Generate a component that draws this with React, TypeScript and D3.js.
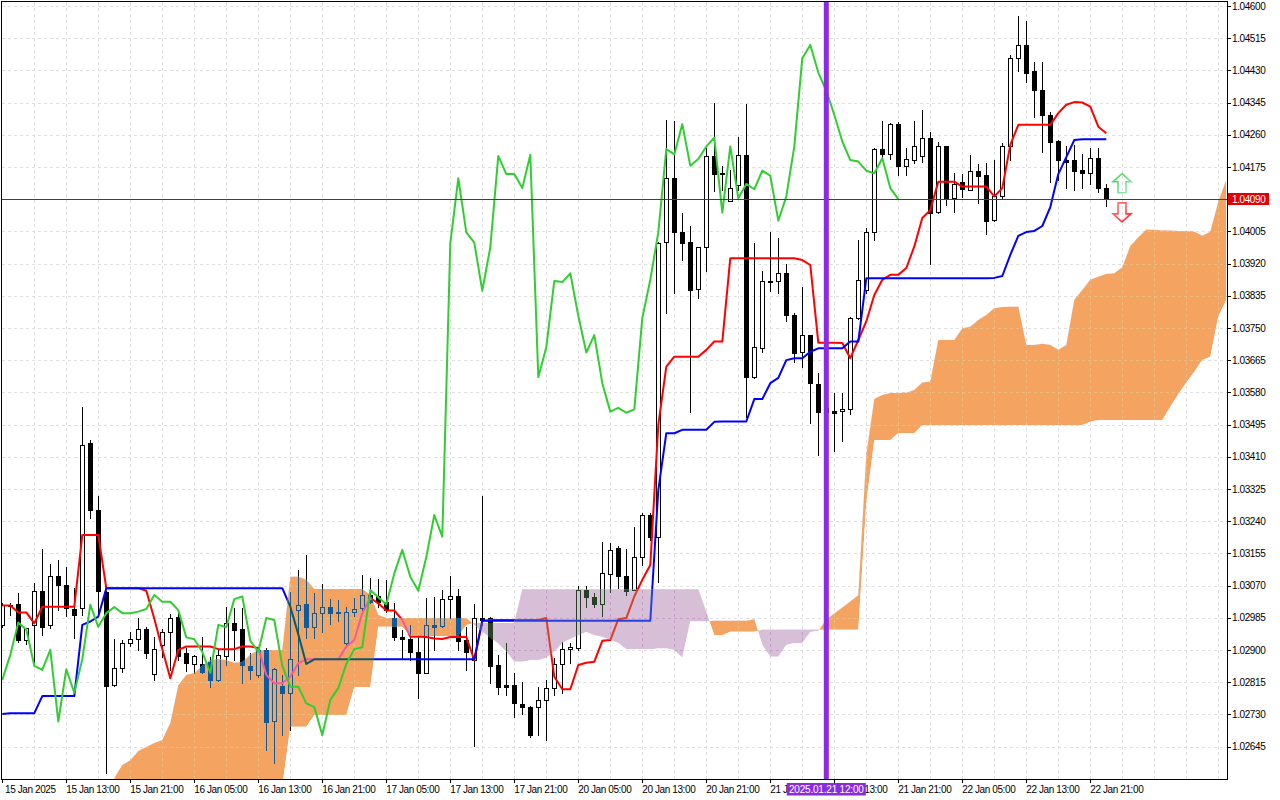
import { useEffect, useRef } from 'react';
import * as d3 from 'd3';

// hourly bars, 15 Jan 05:00 .. 22 Jan 23:00 (bar index 0..138)
const opens = [
  1.02966, 1.03019, 1.03020, 1.02926, 1.02966, 1.03056, 1.02966, 1.03095, 1.03071, 1.03007,
  1.03010, 1.03446, 1.03269, 1.03054, 1.02807, 1.02852, 1.02918, 1.02928, 1.02954, 1.02836,
  1.02913, 1.02947, 1.02986, 1.02891, 1.02865, 1.02862, 1.02869, 1.02821, 1.02884, 1.02972,
  1.02954, 1.02858, 1.02834, 1.02900, 1.02713, 1.02805, 1.02786, 1.03005, 1.03021, 1.02960,
  1.02997, 1.03013, 1.03000, 1.02918, 1.02999, 1.03010, 1.03045, 1.03042, 1.03027, 1.02984,
  1.02933, 1.02928, 1.02895, 1.02840, 1.02966, 1.02963, 1.03034, 1.03042, 1.02926, 1.02872,
  1.02984, 1.02984, 1.02860, 1.02807, 1.02807, 1.02757, 1.02749, 1.02749, 1.02768, 1.02799,
  1.02863, 1.02902, 1.02904, 1.03058, 1.03039, 1.03020, 1.03100, 1.03168, 1.03095, 1.03058,
  1.03146, 1.03256, 1.03199, 1.03975, 1.04145, 1.04004, 1.03976, 1.03852, 1.03965, 1.04204,
  1.04158, 1.04086, 1.04129, 1.04207, 1.03620, 1.03696, 1.03874, 1.03874, 1.03894, 1.03784,
  1.03685, 1.03731, 1.03602, 1.03529, 1.03531, 1.03530, 1.03535, 1.03776, 1.03850, 1.04002,
  1.04222, 1.04208, 1.04288, 1.04178, 1.04193, 1.04204, 1.04252, 1.04054, 1.04229, 1.04092,
  1.04134, 1.04116, 1.04165, 1.04154, 1.04033, 1.04097, 1.04229, 1.04462, 1.04497, 1.04427,
  1.04378, 1.04312, 1.04244, 1.04193, 1.04193, 1.04167, 1.04158, 1.04198, 1.04119,
];
const highs = [
  1.03024, 1.03024, 1.03050, 1.02958, 1.03076, 1.03166, 1.03127, 1.03137, 1.03118, 1.03063,
  1.03542, 1.03454, 1.03307, 1.03056, 1.02928, 1.02926, 1.02948, 1.02984, 1.02961, 1.02935,
  1.02954, 1.02995, 1.02997, 1.02904, 1.02887, 1.02933, 1.02882, 1.02902, 1.03014, 1.03011,
  1.03010, 1.02891, 1.02905, 1.02905, 1.02852, 1.02834, 1.03054, 1.03111, 1.03151, 1.03050,
  1.03074, 1.03034, 1.03032, 1.03014, 1.03036, 1.03098, 1.03090, 1.03086, 1.03085, 1.03023,
  1.02953, 1.02966, 1.02937, 1.03036, 1.03039, 1.03058, 1.03095, 1.03062, 1.02961, 1.03021,
  1.03305, 1.02987, 1.02887, 1.02918, 1.02838, 1.02814, 1.02752, 1.02803, 1.02821, 1.02879,
  1.02922, 1.02918, 1.03069, 1.03069, 1.03050, 1.03186, 1.03183, 1.03174, 1.03166, 1.03224,
  1.03262, 1.03262, 1.03977, 1.04299, 1.04295, 1.04053, 1.04019, 1.03963, 1.04224, 1.04343,
  1.04178, 1.04167, 1.04255, 1.04341, 1.03974, 1.03900, 1.04004, 1.03987, 1.03919, 1.03790,
  1.03857, 1.03732, 1.03632, 1.03573, 1.03578, 1.03579, 1.03778, 1.03982, 1.04014, 1.04224,
  1.04295, 1.04291, 1.04294, 1.04224, 1.04295, 1.04325, 1.04268, 1.04242, 1.04230, 1.04158,
  1.04156, 1.04207, 1.04183, 1.04185, 1.04193, 1.04238, 1.04471, 1.04574, 1.04559, 1.04453,
  1.04453, 1.04321, 1.04246, 1.04229, 1.04233, 1.04209, 1.04224, 1.04224, 1.04130,
];
const lows = [
  1.02961, 1.02992, 1.02922, 1.02915, 1.02869, 1.02939, 1.02957, 1.03005, 1.02990, 1.02931,
  1.02992, 1.03248, 1.02992, 1.02574, 1.02806, 1.02841, 1.02911, 1.02900, 1.02879, 1.02821,
  1.02882, 1.02847, 1.02873, 1.02843, 1.02840, 1.02838, 1.02803, 1.02818, 1.02860, 1.02873,
  1.02812, 1.02822, 1.02829, 1.02636, 1.02601, 1.02675, 1.02689, 1.02834, 1.02931, 1.02931,
  1.02948, 1.02968, 1.02975, 1.02913, 1.02990, 1.03005, 1.03024, 1.03014, 1.03000, 1.02926,
  1.02875, 1.02873, 1.02772, 1.02840, 1.02900, 1.02961, 1.02984, 1.02900, 1.02847, 1.02646,
  1.02966, 1.02812, 1.02784, 1.02781, 1.02724, 1.02731, 1.02671, 1.02675, 1.02662, 1.02781,
  1.02787, 1.02865, 1.02900, 1.03014, 1.03012, 1.02990, 1.03054, 1.03064, 1.03045, 1.03057,
  1.03124, 1.03190, 1.03078, 1.03790, 1.03843, 1.03928, 1.03529, 1.03828, 1.03899, 1.04112,
  1.04114, 1.04085, 1.04114, 1.03516, 1.03618, 1.03687, 1.03848, 1.03843, 1.03769, 1.03661,
  1.03648, 1.03498, 1.03415, 1.03441, 1.03426, 1.03452, 1.03523, 1.03774, 1.03842, 1.03982,
  1.04193, 1.04195, 1.04154, 1.04154, 1.04185, 1.04189, 1.03919, 1.04053, 1.04075, 1.04057,
  1.04095, 1.04114, 1.04079, 1.03998, 1.04032, 1.04093, 1.04193, 1.04427, 1.04400, 1.04308,
  1.04215, 1.04136, 1.04141, 1.04119, 1.04114, 1.04119, 1.04130, 1.04110, 1.04072,
];
const closes = [
  1.03019, 1.03016, 1.02924, 1.02957, 1.03056, 1.02960, 1.03095, 1.03070, 1.03010, 1.02992,
  1.03441, 1.03268, 1.03056, 1.02806, 1.02852, 1.02918, 1.02928, 1.02954, 1.02891, 1.02902,
  1.02947, 1.02984, 1.02884, 1.02865, 1.02885, 1.02840, 1.02821, 1.02887, 1.02972, 1.02954,
  1.02858, 1.02847, 1.02900, 1.02711, 1.02849, 1.02787, 1.02875, 1.03019, 1.02961, 1.02997,
  1.03013, 1.02997, 1.02997, 1.03001, 1.03008, 1.03045, 1.03027, 1.03027, 1.03005, 1.02933,
  1.02928, 1.02895, 1.02839, 1.02966, 1.02960, 1.03034, 1.03041, 1.02924, 1.02895, 1.02984,
  1.02979, 1.02858, 1.02803, 1.02803, 1.02759, 1.02749, 1.02675, 1.02768, 1.02799, 1.02863,
  1.02902, 1.02907, 1.03058, 1.03039, 1.03020, 1.03102, 1.03164, 1.03093, 1.03056, 1.03145,
  1.03256, 1.03199, 1.03974, 1.04145, 1.04002, 1.03975, 1.03848, 1.03963, 1.04204, 1.04156,
  1.04156, 1.04119, 1.04207, 1.03620, 1.03699, 1.03874, 1.03871, 1.03894, 1.03782, 1.03685,
  1.03731, 1.03604, 1.03529, 1.03539, 1.03526, 1.03535, 1.03776, 1.03877, 1.04002, 1.04222,
  1.04208, 1.04288, 1.04178, 1.04196, 1.04229, 1.04252, 1.04054, 1.04229, 1.04092, 1.04130,
  1.04116, 1.04165, 1.04152, 1.04033, 1.04097, 1.04229, 1.04462, 1.04497, 1.04424, 1.04376,
  1.04312, 1.04242, 1.04193, 1.04189, 1.04165, 1.04158, 1.04198, 1.04119, 1.04090,
];

// Ichimoku lines
const tenkan = [
  1.03017, 1.03017, 1.02999, 1.02999, 1.02970, 1.03014, 1.03014, 1.03014, 1.03014, 1.03014,
  1.03203, 1.03203, 1.03203, 1.03063, 1.03063, 1.03063, 1.03063, 1.03063, 1.03056, 1.02982,
  1.02902, 1.02825, 1.02900, 1.02909, 1.02909, 1.02909, 1.02909, 1.02902, 1.02902, 1.02902,
  1.02909, 1.02909, 1.02905, 1.02834, 1.02812, 1.02812, 1.02829, 1.02865, 1.02875, 1.02875,
  1.02875, 1.02875, 1.02875, 1.02909, 1.02926, 1.02997, 1.03037, 1.03023, 1.03004, 1.03004,
  1.02979, 1.02935, 1.02935, 1.02934, 1.02930, 1.02929, 1.02934, 1.02935, 1.02934, 1.02873,
  1.02977, 1.02979, 1.02979, 1.02979, 1.02979, 1.02979, 1.02979, 1.02979, 1.02984, 1.02829,
  1.02796, 1.02796, 1.02860, 1.02866, 1.02869, 1.02924, 1.02926, 1.02981, 1.02984, 1.03041,
  1.03085, 1.03124, 1.03494, 1.03648, 1.03674, 1.03674, 1.03674, 1.03674, 1.03692, 1.03714,
  1.03714, 1.03934, 1.03934, 1.03934, 1.03934, 1.03934, 1.03934, 1.03934, 1.03934, 1.03934,
  1.03929, 1.03916, 1.03711, 1.03711, 1.03711, 1.03710, 1.03670, 1.03718, 1.03767, 1.03837,
  1.03877, 1.03890, 1.03890, 1.03908, 1.03965, 1.04040, 1.04061, 1.04136, 1.04136, 1.04136,
  1.04123, 1.04123, 1.04123, 1.04123, 1.04097, 1.04119, 1.04233, 1.04286, 1.04286, 1.04286,
  1.04286, 1.04286, 1.04317, 1.04339, 1.04346, 1.04345, 1.04334, 1.04281, 1.04264,
];
const kijun = [
  1.02731, 1.02733, 1.02733, 1.02733, 1.02733, 1.02778, 1.02778, 1.02778, 1.02778, 1.02778,
  1.02966, 1.02975, 1.02988, 1.03063, 1.03063, 1.03063, 1.03063, 1.03063, 1.03063, 1.03063,
  1.03063, 1.03063, 1.03063, 1.03063, 1.03063, 1.03063, 1.03063, 1.03063, 1.03063, 1.03063,
  1.03063, 1.03063, 1.03063, 1.03063, 1.03063, 1.03063, 1.03014, 1.02941, 1.02863, 1.02875,
  1.02875, 1.02875, 1.02875, 1.02875, 1.02875, 1.02875, 1.02875, 1.02875, 1.02875, 1.02875,
  1.02875, 1.02875, 1.02875, 1.02875, 1.02875, 1.02875, 1.02875, 1.02875, 1.02875, 1.02875,
  1.02977, 1.02977, 1.02977, 1.02977, 1.02977, 1.02977, 1.02977, 1.02977, 1.02977, 1.02977,
  1.02977, 1.02977, 1.02977, 1.02977, 1.02977, 1.02977, 1.02977, 1.02977, 1.02977, 1.02977,
  1.02977, 1.02977, 1.03322, 1.03472, 1.03472, 1.03481, 1.03481, 1.03481, 1.03481, 1.03502,
  1.03503, 1.03503, 1.03503, 1.03503, 1.03562, 1.03562, 1.03604, 1.03618, 1.03665, 1.03670,
  1.03670, 1.03687, 1.03696, 1.03696, 1.03696, 1.03696, 1.03714, 1.03714, 1.03881, 1.03881,
  1.03881, 1.03881, 1.03881, 1.03881, 1.03881, 1.03881, 1.03881, 1.03881, 1.03881, 1.03881,
  1.03881, 1.03881, 1.03881, 1.03881, 1.03882, 1.03887, 1.03943, 1.03993, 1.04003, 1.04006,
  1.04019, 1.04069, 1.04156, 1.04201, 1.04246, 1.04248, 1.04248, 1.04248, 1.04248,
];

// cloud spans start at bar 14 and run 15 bars past the last candle
const spanStart = 14;
const spanA = [
  1.02562, 1.02596, 1.02609, 1.02633, 1.02644, 1.02654, 1.02662, 1.02707, 1.02807, 1.02834,
  1.02839, 1.02858, 1.02873, 1.02876, 1.02873, 1.02866, 1.02868, 1.02887, 1.02900, 1.02900,
  1.02900, 1.02900, 1.03093, 1.03093, 1.03085, 1.03061, 1.03061, 1.03061, 1.03061, 1.03061,
  1.03061, 1.03061, 1.03045, 1.02992, 1.02984, 1.02984, 1.02984, 1.02984, 1.02984, 1.02984,
  1.02984, 1.02984, 1.02984, 1.02984, 1.02984, 1.02966, 1.02947, 1.02932, 1.02916, 1.02895,
  1.02869, 1.02869, 1.02873, 1.02873, 1.02879, 1.02895, 1.02918, 1.02929, 1.02939, 1.02947,
  1.02939, 1.02934, 1.02926, 1.02918, 1.02902, 1.02902, 1.02902, 1.02902, 1.02904, 1.02904,
  1.02900, 1.02879, 1.02975, 1.02975, 1.02975, 1.02977, 1.02977, 1.02977, 1.02977, 1.02977,
  1.02981, 1.02913, 1.02882, 1.02882, 1.02913, 1.02918, 1.02918, 1.02947, 1.02950, 1.02980,
  1.02996, 1.03012, 1.03028, 1.03044, 1.03415, 1.03562, 1.03573, 1.03578, 1.03578, 1.03579,
  1.03586, 1.03606, 1.03608, 1.03718, 1.03718, 1.03718, 1.03749, 1.03753, 1.03771, 1.03784,
  1.03802, 1.03805, 1.03806, 1.03806, 1.03705, 1.03705, 1.03708, 1.03705, 1.03692, 1.03705,
  1.03824, 1.03850, 1.03877, 1.03885, 1.03892, 1.03894, 1.03910, 1.03966, 1.03989, 1.04009,
  1.04009, 1.04007, 1.04007, 1.04006, 1.04005, 1.04004, 1.03993, 1.04004, 1.04083, 1.04141,
];
const spanB = [
  1.02540, 1.02540, 1.02540, 1.02540, 1.02540, 1.02540, 1.02540, 1.02540, 1.02540, 1.02540,
  1.02540, 1.02540, 1.02540, 1.02540, 1.02540, 1.02540, 1.02540, 1.02540, 1.02540, 1.02540,
  1.02540, 1.02540, 1.02697, 1.02697, 1.02697, 1.02728, 1.02728, 1.02728, 1.02728, 1.02728,
  1.02802, 1.02802, 1.02802, 1.02961, 1.02961, 1.02961, 1.02961, 1.02937, 1.02937, 1.02937,
  1.02937, 1.02937, 1.02937, 1.02937, 1.02966, 1.02971, 1.02971, 1.02971, 1.02971, 1.02971,
  1.02971, 1.03060, 1.03060, 1.03060, 1.03060, 1.03060, 1.03060, 1.03060, 1.03060, 1.03060,
  1.03060, 1.03060, 1.03060, 1.03060, 1.03060, 1.03060, 1.03060, 1.03060, 1.03060, 1.03060,
  1.03060, 1.03060, 1.03060, 1.03060, 1.03000, 1.02939, 1.02939, 1.02948, 1.02948, 1.02948,
  1.02948, 1.02953, 1.02953, 1.02953, 1.02953, 1.02953, 1.02953, 1.02953, 1.02953, 1.02953,
  1.02953, 1.02953, 1.02953, 1.02953, 1.03289, 1.03454, 1.03454, 1.03454, 1.03472, 1.03472,
  1.03472, 1.03494, 1.03494, 1.03494, 1.03494, 1.03494, 1.03494, 1.03494, 1.03494, 1.03494,
  1.03494, 1.03494, 1.03494, 1.03494, 1.03494, 1.03494, 1.03494, 1.03494, 1.03494, 1.03494,
  1.03494, 1.03494, 1.03502, 1.03507, 1.03507, 1.03507, 1.03507, 1.03507, 1.03507, 1.03507,
  1.03507, 1.03507, 1.03542, 1.03575, 1.03606, 1.03634, 1.03665, 1.03674, 1.03780, 1.03824,
];
const chikouShift = 26;

const timeLabels = [
  '15 Jan 2025', '15 Jan 13:00', '15 Jan 21:00', '16 Jan 05:00', '16 Jan 13:00', '16 Jan 21:00',
  '17 Jan 05:00', '17 Jan 13:00', '17 Jan 21:00', '20 Jan 05:00', '20 Jan 13:00', '20 Jan 21:00',
  '21 Jan 05:00', '21 Jan 13:00', '21 Jan 21:00', '22 Jan 05:00', '22 Jan 13:00', '22 Jan 21:00',
];
const labelEvery = 8;
const priceLabels = [
  '1.04600', '1.04515', '1.04430', '1.04345', '1.04260', '1.04175', '1.04090', '1.04005',
  '1.03920', '1.03835', '1.03750', '1.03665', '1.03580', '1.03495', '1.03410', '1.03325',
  '1.03240', '1.03155', '1.03070', '1.02985', '1.02900', '1.02815', '1.02730', '1.02645',
];
const lastPrice = 1.0409;
const markerBar = 103;
const markerText = '2025.01.21 12:00';
const arrowBar = 140;
const arrowUpPrice = 1.04157;
const arrowDownPrice = 1.0403;

const FONT = "'Liberation Sans', Arial, sans-serif";

export default function App() {
  const svgRef = useRef<SVGSVGElement | null>(null);

  useEffect(() => {
    if (!svgRef.current) return;
    const svg = d3.select(svgRef.current);
    svg.selectAll('*').remove();

    const plot = { left: 2, top: 2, right: 1227, bottom: 779 };
    const lastBar = spanStart + spanA.length - 1;
    const x = d3.scaleLinear().domain([0, lastBar]).range([2.3, 2.3 + 8 * lastBar]);
    const y = d3.scaleLinear().domain([1.02645, 1.046]).range([746.5, 5.9]);
    const crisp = (v: number) => Math.round(v) + 0.5;
    const bars = d3.range(closes.length);
    const span = d3.range(spanA.length);
    const sx = (k: number) => x(k + spanStart);

    const defs = svg.append('defs');
    defs.append('clipPath').attr('id', 'plot-clip').append('rect')
      .attr('x', plot.left).attr('y', plot.top)
      .attr('width', plot.right - plot.left).attr('height', plot.bottom - plot.top);
    const band = d3.area<number>().x(sx).y0(k => y(spanA[k])).y1(k => y(spanB[k]));
    defs.append('clipPath').attr('id', 'band').append('path').attr('d', band(span));
    defs.append('clipPath').attr('id', 'above-a').append('path')
      .attr('d', d3.area<number>().x(sx).y0(plot.top).y1(k => y(spanA[k]))(span));
    defs.append('clipPath').attr('id', 'above-b').append('path')
      .attr('d', d3.area<number>().x(sx).y0(plot.top).y1(k => y(spanB[k]))(span));

    const upGrad = defs.append('linearGradient').attr('id', 'up-grad')
      .attr('x1', 0).attr('y1', 0).attr('x2', 1).attr('y2', 1);
    upGrad.append('stop').attr('offset', '0%').attr('stop-color', '#3dd13d');
    upGrad.append('stop').attr('offset', '100%').attr('stop-color', '#9fe8c8');
    const downGrad = defs.append('linearGradient').attr('id', 'down-grad')
      .attr('x1', 0).attr('y1', 0).attr('x2', 1).attr('y2', 1);
    downGrad.append('stop').attr('offset', '0%').attr('stop-color', '#ff8080');
    downGrad.append('stop').attr('offset', '100%').attr('stop-color', '#ff2020');

    svg.append('rect').attr('width', 1280).attr('height', 800).attr('fill', '#fff');

    const root = svg.append('g').attr('clip-path', 'url(#plot-clip)');

    type Palette = { grid: string; ink: string; paper: string; tenkan: string; kijun: string };
    const drawLayer = (g: any, c: Palette) => {
      const hGrid = g.append('g').attr('stroke', c.grid).attr('stroke-dasharray', '3,3')
        .attr('shape-rendering', 'crispEdges');
      hGrid.selectAll('line').data(priceLabels).join('line')
        .attr('x1', plot.left).attr('x2', plot.right)
        .attr('y1', (d: string) => crisp(y(+d))).attr('y2', (d: string) => crisp(y(+d)));
      const vGrid = g.append('g').attr('stroke', c.grid).attr('stroke-dasharray', '3,3')
        .attr('shape-rendering', 'crispEdges');
      vGrid.selectAll('line').data(d3.range(4, lastBar + 1, 4)).join('line')
        .attr('x1', (i: number) => crisp(x(i))).attr('x2', (i: number) => crisp(x(i)))
        .attr('y1', plot.top).attr('y2', plot.bottom);

      const candles = g.append('g').attr('shape-rendering', 'crispEdges');
      candles.append('g').selectAll('line').data(bars).join('line')
        .attr('x1', (i: number) => crisp(x(i))).attr('x2', (i: number) => crisp(x(i)))
        .attr('y1', (i: number) => Math.round(y(highs[i])))
        .attr('y2', (i: number) => Math.round(y(lows[i])) + 1)
        .attr('stroke', c.ink);
      candles.append('g').selectAll('rect').data(bars).join('rect')
        .attr('x', (i: number) => crisp(x(i)) - 2)
        .attr('y', (i: number) => crisp(y(Math.max(opens[i], closes[i]))))
        .attr('width', 4)
        .attr('height', (i: number) => Math.max(1, Math.round(Math.abs(y(opens[i]) - y(closes[i])))))
        .attr('fill', (i: number) => (closes[i] > opens[i] ? c.paper : c.ink))
        .attr('stroke', c.ink);

      const line = (vals: number[]) => d3.line<number>().x(i => x(i)).y(i => y(vals[i]))(bars);
      g.append('path').attr('d', line(tenkan)).attr('fill', 'none')
        .attr('stroke', c.tenkan).attr('stroke-width', 2).attr('stroke-linejoin', 'round');
      g.append('path').attr('d', line(kijun)).attr('fill', 'none')
        .attr('stroke', c.kijun).attr('stroke-width', 2).attr('stroke-linejoin', 'round');
    };

    // normal chart
    drawLayer(root.append('g'), { grid: '#e0e0e0', ink: '#000', paper: '#fff', tenkan: '#ff0000', kijun: '#0000ff' });

    // bullish cloud (span A above span B), drawn the way the terminal inverts what lies under it
    const orange = root.append('g').attr('clip-path', 'url(#above-b)')
      .append('g').attr('clip-path', 'url(#band)');
    orange.append('rect').attr('x', plot.left).attr('y', plot.top)
      .attr('width', plot.right - plot.left).attr('height', plot.bottom - plot.top).attr('fill', '#f4a460');
    drawLayer(orange, { grid: '#ebbb7f', ink: '#0b5b9f', paper: '#f4a460', tenkan: '#f45b9f', kijun: '#0b5b60' });

    // bearish cloud
    const purple = root.append('g').attr('clip-path', 'url(#above-a)')
      .append('g').attr('clip-path', 'url(#band)');
    purple.append('rect').attr('x', plot.left).attr('y', plot.top)
      .attr('width', plot.right - plot.left).attr('height', plot.bottom - plot.top).attr('fill', '#d8bfd8');
    drawLayer(purple, { grid: '#c7a0c7', ink: '#274027', paper: '#d8bfd8', tenkan: '#d84027', kijun: '#2740d8' });

    // chikou span = close shifted 26 bars back
    const chikouBars = d3.range(closes.length - chikouShift);
    root.append('path')
      .attr('d', d3.line<number>().x(i => x(i)).y(i => y(closes[i + chikouShift]))(chikouBars))
      .attr('fill', 'none').attr('stroke', '#32cd32').attr('stroke-width', 2).attr('stroke-linejoin', 'round');

    // last price line
    root.append('line')
      .attr('x1', plot.left).attr('x2', plot.right)
      .attr('y1', crisp(y(lastPrice))).attr('y2', crisp(y(lastPrice)))
      .attr('stroke', '#a51515').attr('shape-rendering', 'crispEdges');

    // vertical marker
    root.append('rect')
      .attr('x', x(markerBar) - 2.5).attr('y', plot.top)
      .attr('width', 5).attr('height', plot.bottom - plot.top)
      .attr('fill', '#8a2be2');

    // arrows
    const ax = x(arrowBar) - 0.3;
    const tu = y(arrowUpPrice);
    const upPath = `M${ax},${tu} L${ax + 9},${tu + 8} L${ax + 4},${tu + 8} L${ax + 4},${tu + 19} L${ax - 4},${tu + 19} L${ax - 4},${tu + 8} L${ax - 9},${tu + 8} Z`;
    root.append('path').attr('d', upPath).attr('fill', 'none')
      .attr('stroke', 'url(#up-grad)').attr('stroke-width', 1.6);
    const td = y(arrowDownPrice);
    const downPath = `M${ax},${td} L${ax + 9},${td - 8} L${ax + 4},${td - 8} L${ax + 4},${td - 19} L${ax - 4},${td - 19} L${ax - 4},${td - 8} L${ax - 9},${td - 8} Z`;
    root.append('path').attr('d', downPath).attr('fill', 'none')
      .attr('stroke', 'url(#down-grad)').attr('stroke-width', 1.6);

    // frame
    svg.append('rect')
      .attr('x', 1.5).attr('y', 1.5)
      .attr('width', plot.right - 1.5 + 0.5).attr('height', plot.bottom - 1.5)
      .attr('fill', 'none').attr('stroke', '#000').attr('shape-rendering', 'crispEdges');

    // price axis
    const yAxis = svg.append('g').attr('font-family', FONT).attr('font-size', 10).attr('letter-spacing', '-0.4');
    yAxis.selectAll('line').data(priceLabels).join('line')
      .attr('x1', plot.right).attr('x2', plot.right + 4)
      .attr('y1', d => crisp(y(+d))).attr('y2', d => crisp(y(+d)))
      .attr('stroke', '#000').attr('shape-rendering', 'crispEdges');
    yAxis.selectAll('text').data(priceLabels).join('text')
      .attr('x', plot.right + 5).attr('y', d => y(+d) + 3.6)
      .attr('fill', '#000').text(d => d);

    yAxis.append('rect')
      .attr('x', plot.right + 1).attr('y', Math.round(y(lastPrice)) - 6)
      .attr('width', 41).attr('height', 12).attr('fill', '#e50000');
    yAxis.append('text')
      .attr('x', plot.right + 5).attr('y', y(lastPrice) + 3.6)
      .attr('fill', '#fff').text(lastPrice.toFixed(5));

    // time axis
    const xAxis = svg.append('g').attr('font-family', FONT).attr('font-size', 10).attr('letter-spacing', '-0.4');
    const tickBars = timeLabels.map((_, k) => k * labelEvery);
    xAxis.selectAll('line').data(tickBars).join('line')
      .attr('x1', i => crisp(x(i))).attr('x2', i => crisp(x(i)))
      .attr('y1', plot.bottom).attr('y2', plot.bottom + 4)
      .attr('stroke', '#000').attr('shape-rendering', 'crispEdges');
    xAxis.selectAll('text').data(tickBars).join('text')
      .attr('x', i => Math.max(5, x(i)))
      .attr('y', 792.5)
      .attr('fill', '#000')
      .text((_, k) => timeLabels[k]);

    const mx = x(markerBar);
    xAxis.append('rect')
      .attr('x', mx - 39.5).attr('y', 783).attr('width', 79).attr('height', 12.5)
      .attr('fill', '#8a2be2');
    xAxis.append('text')
      .attr('x', mx).attr('y', 792.8).attr('text-anchor', 'middle')
      .attr('fill', '#fff').attr('letter-spacing', '-0.2').text(markerText);
  }, []);

  return (
    <svg
      ref={svgRef}
      width={1280}
      height={800}
      style={{ position: 'absolute', left: 0, top: 0, display: 'block' }}
    />
  );
}
